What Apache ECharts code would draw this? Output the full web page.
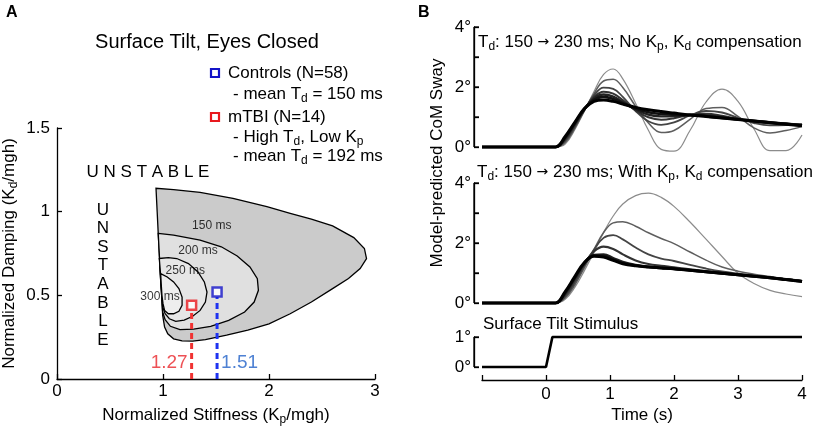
<!DOCTYPE html>
<html><head><meta charset="utf-8">
<script src="https://cdn.jsdelivr.net/npm/echarts@6/dist/echarts.min.js"></script>
<style>html,body{margin:0;padding:0;background:#fff}#c{width:829px;height:429px}</style>
</head><body><div id="c"></div>
<script>
// ---------------- Panel A data ----------------
const stiffnessRange = [0, 3];
const dampingRange = [0, 1.5];
const contourLabels = ['150 ms', '200 ms', '250 ms', '300 ms'];
const contourLabelPos = [[1.46, 0.915], [1.33, 0.765], [1.21, 0.645], [0.972, 0.492]];
const contour150 = [[0.934,1.14],[0.945,1.0],[0.955,0.87],[0.965,0.75],[0.975,0.62],[0.988,0.49],[0.997,0.38],[1.015,0.31],[1.045,0.27],[1.1,0.24],[1.18,0.228],[1.28,0.226],[1.4,0.235],[1.6,0.262],[1.8,0.292],[2.0,0.33],[2.2,0.39],[2.4,0.46],[2.6,0.54],[2.75,0.6],[2.86,0.66],[2.92,0.72],[2.9,0.78],[2.8,0.845],[2.6,0.915],[2.4,0.955],[2.2,0.99],[1.98,1.03],[1.66,1.08],[1.35,1.115],[1.1,1.132],[0.934,1.14]];
const contour200 = [[0.955,0.87],[1.1,0.86],[1.35,0.83],[1.55,0.79],[1.7,0.735],[1.82,0.67],[1.89,0.6],[1.9,0.53],[1.86,0.46],[1.77,0.4],[1.62,0.35],[1.45,0.315],[1.29,0.298],[1.16,0.295],[1.07,0.315],[1.02,0.355],[0.997,0.4],[0.988,0.49],[0.975,0.62],[0.965,0.75],[0.955,0.87]];
const contour250 = [[0.965,0.72],[1.05,0.725],[1.13,0.72],[1.24,0.69],[1.33,0.64],[1.39,0.58],[1.415,0.52],[1.4,0.46],[1.35,0.41],[1.28,0.375],[1.2,0.352],[1.12,0.345],[1.06,0.36],[1.02,0.39],[0.997,0.43],[0.99,0.5],[0.978,0.62],[0.965,0.72]];
const contour300 = [[0.978,0.63],[1.04,0.61],[1.1,0.58],[1.15,0.54],[1.18,0.49],[1.18,0.44],[1.15,0.405],[1.1,0.39],[1.05,0.39],[1.015,0.41],[1.0,0.45],[0.99,0.5],[0.983,0.57],[0.978,0.63]];
const controlsPoint = [1.51, 0.52];
const mtbiPoint = [1.27, 0.44];
const controlsKpLabel = '1.51';
const mtbiKpLabel = '1.27';

// ---------------- Panel B data ----------------
const timeS = [-1, 0, 0.15, 0.3, 0.45, 0.6, 0.75, 0.9, 1.05, 1.2, 1.4, 1.6, 1.8, 2.0, 2.25, 2.5, 2.75, 3.0, 3.25, 3.5, 3.75, 4.0];
const swayNoComp1 = [0,0,0,0.35,0.82,1.28,1.52,1.57,1.52,1.43,1.32,1.24,1.18,1.13,1.07,1.02,0.97,0.92,0.87,0.81,0.76,0.71];
const swayNoComp2 = [0,0,0,0.32,0.8,1.27,1.57,1.67,1.6,1.46,1.28,1.16,1.1,1.08,1.06,1.02,0.97,0.92,0.87,0.82,0.77,0.72];
const swayNoComp3 = [0,0,0,0.29,0.77,1.26,1.62,1.75,1.68,1.5,1.25,1.08,1.02,1.03,1.07,1.06,1.0,0.92,0.86,0.82,0.78,0.73];
const swayNoComp4 = [0,0,0,0.25,0.73,1.25,1.66,1.84,1.78,1.56,1.22,0.99,0.91,0.96,1.08,1.11,1.04,0.93,0.84,0.79,0.78,0.74];
const swayNoComp5 = [0,0,0,0.2,0.68,1.23,1.72,1.98,1.94,1.67,1.2,0.86,0.74,0.82,1.05,1.2,1.15,0.97,0.8,0.72,0.73,0.76];
const swayNoComp6 = [0,0,0,0.15,0.63,1.21,1.78,2.2,2.26,1.98,1.36,0.8,0.48,0.55,0.92,1.28,1.32,1.02,0.64,0.47,0.55,0.68];
const swayNoComp7 = [0,0,0,0.1,0.58,1.2,1.85,2.42,2.6,2.27,1.46,0.56,-0.08,-0.14,0.55,1.5,1.93,1.52,0.6,-0.12,-0.12,0.4];
const swayComp1 = [0,0,0,0.38,0.88,1.35,1.56,1.53,1.42,1.31,1.24,1.2,1.17,1.14,1.09,1.04,0.99,0.94,0.89,0.84,0.78,0.72];
const swayComp2 = [0,0,0,0.35,0.85,1.34,1.58,1.57,1.45,1.33,1.25,1.2,1.17,1.14,1.09,1.04,0.99,0.94,0.89,0.84,0.78,0.72];
const swayComp3 = [0,0,0,0.32,0.82,1.32,1.6,1.62,1.5,1.37,1.27,1.21,1.17,1.14,1.09,1.04,0.99,0.94,0.89,0.84,0.79,0.73];
const swayComp4 = [0,0,0,0.28,0.76,1.3,1.72,1.88,1.8,1.62,1.42,1.3,1.24,1.19,1.12,1.06,1.0,0.95,0.9,0.85,0.79,0.73];
const swayComp5 = [0,0,0,0.22,0.68,1.25,1.78,2.17,2.26,2.12,1.85,1.62,1.48,1.4,1.27,1.15,1.05,0.98,0.92,0.86,0.8,0.74];
const swayComp6 = [0,0,0,0.17,0.6,1.18,1.78,2.35,2.67,2.71,2.56,2.34,2.15,1.98,1.7,1.43,1.2,1.06,0.96,0.88,0.8,0.73];
const swayComp7 = [0,0,0,0.12,0.52,1.08,1.7,2.35,2.9,3.3,3.58,3.66,3.52,3.22,2.7,2.13,1.55,0.99,0.65,0.42,0.3,0.21];
const stimTime = [-1, 0, 0.1, 4];
const stimTilt = [0, 0, 1, 1];

// ---------------- Styling ----------------
const FONT = '"Liberation Sans", Arial, Helvetica, sans-serif';
const lineColors = ['#000000','#111111','#222222','#333333','#444444','#5e5e5e','#8c8c8c'];
const lineWidths = [3, 2.7, 2.4, 2.1, 1.8, 1.5, 1.2];
const contourFills = ['#cbcbcb', '#e0e0e0', '#e6e6e6', '#eeeeee'];
const RICH = {
  n: {fontSize: 17, fontFamily: FONT, lineHeight: 21, color: '#000'},
  s: {fontSize: 12, fontFamily: FONT, lineHeight: 12, padding: [9, 0, 0, 0], color: '#000'},
  a: {fontSize: 14, fontFamily: '"DejaVu Sans", sans-serif', lineHeight: 21, color: '#000'}
};
function axisLineStyle() { return {color: '#000', width: 1.3}; }

function txt(x, y, text, size, extra) {
  extra = extra || {};
  return {
    type: 'text', x: x, y: y, rotation: extra.rotation || 0, silent: true, z: 100,
    style: {
      text: text, fill: '#000', fontSize: size, fontFamily: FONT,
      fontWeight: extra.bold ? 'bold' : 'normal',
      align: extra.align || 'left', textAlign: extra.align || 'left',
      verticalAlign: 'middle', textVerticalAlign: 'middle',
      lineHeight: extra.lineHeight, rich: extra.rich
    }
  };
}
function legendBox(cx, cy, color) {
  return {type: 'rect', silent: true, z: 100, shape: {x: cx - 4, y: cy - 4, width: 8, height: 8},
    style: {fill: '#fff', stroke: color, lineWidth: 2.2}};
}

const contours = [contour150, contour200, contour250, contour300];
const noComp = [swayNoComp1, swayNoComp2, swayNoComp3, swayNoComp4, swayNoComp5, swayNoComp6, swayNoComp7];
const withComp = [swayComp1, swayComp2, swayComp3, swayComp4, swayComp5, swayComp6, swayComp7];

const series = [];
series.push({
  type: 'custom', xAxisIndex: 0, yAxisIndex: 0, clip: false, silent: true, z: 1,
  data: contours.map(c => c[0]),
  renderItem: function (params, api) {
    const pts = contours[params.dataIndex].map(p => api.coord(p));
    return {type: 'polygon', shape: {points: pts},
      style: {fill: contourFills[params.dataIndex], stroke: '#000', lineWidth: 1.3}};
  }
});
series.push({
  type: 'scatter', xAxisIndex: 0, yAxisIndex: 0, symbolSize: 0, silent: true, z: 4,
  itemStyle: {color: 'transparent'},
  data: contourLabelPos.map((p, i) => ({value: p, name: contourLabels[i]})),
  label: {show: true, position: 'inside', formatter: '{b}', fontSize: 12, fontFamily: FONT, color: '#000'}
});
series.push({type: 'line', xAxisIndex: 0, yAxisIndex: 0, symbol: 'none', silent: true, z: 3,
  data: [[mtbiPoint[0], 0], [mtbiPoint[0], mtbiPoint[1] - 0.03]],
  lineStyle: {color: '#f03232', width: 3, type: [6, 4]}});
series.push({type: 'line', xAxisIndex: 0, yAxisIndex: 0, symbol: 'none', silent: true, z: 3,
  data: [[controlsPoint[0], 0], [controlsPoint[0], controlsPoint[1] - 0.03]],
  lineStyle: {color: '#1e32f0', width: 3, type: [6, 4]}});
series.push({type: 'scatter', name: 'Controls', xAxisIndex: 0, yAxisIndex: 0, symbol: 'rect', symbolSize: 9, z: 5,
  data: [controlsPoint], itemStyle: {color: '#fff', borderColor: '#1414c8', borderWidth: 2.5}});
series.push({type: 'scatter', name: 'mTBI', xAxisIndex: 0, yAxisIndex: 0, symbol: 'rect', symbolSize: 9, z: 5,
  data: [mtbiPoint], itemStyle: {color: '#fff', borderColor: '#e8191e', borderWidth: 2.5}});
series.push({type: 'scatter', xAxisIndex: 0, yAxisIndex: 0, symbolSize: 0, silent: true, z: 6,
  itemStyle: {color: 'transparent'},
  data: [{value: [mtbiPoint[0], 0.1], name: mtbiKpLabel}],
  label: {show: true, position: 'left', distance: 4, formatter: '{b}', fontSize: 19, fontFamily: FONT, color: '#e8262b'}});
series.push({type: 'scatter', xAxisIndex: 0, yAxisIndex: 0, symbolSize: 0, silent: true, z: 6,
  itemStyle: {color: 'transparent'},
  data: [{value: [controlsPoint[0], 0.1], name: controlsKpLabel}],
  label: {show: true, position: 'right', distance: 4, formatter: '{b}', fontSize: 19, fontFamily: FONT, color: '#2262c8'}});

function addSway(arr, axisIdx) {
  arr.forEach((vals, i) => {
    series.push({type: 'line', xAxisIndex: axisIdx, yAxisIndex: axisIdx, symbol: 'none', smooth: 0.4,
      clip: false, silent: true, z: 2 + (arr.length - i),
      data: timeS.map((t, k) => [t, vals[k]]),
      lineStyle: {color: lineColors[i], width: lineWidths[i]}});
  });
}
addSway(noComp, 1);
addSway(withComp, 2);
series.push({type: 'line', xAxisIndex: 3, yAxisIndex: 3, symbol: 'none', silent: true, clip: false,
  data: stimTime.map((t, k) => [t, stimTilt[k]]), lineStyle: {color: '#000', width: 2.6}});

const baseLabel = {color: '#000', fontSize: 17, fontFamily: FONT};
function timeAxis(gi, show) {
  return {type: 'value', gridIndex: gi, min: -1, max: 4, interval: 1, show: show,
    offset: show ? 13 : 0,
    axisLine: {show: true, onZero: false, lineStyle: axisLineStyle()},
    axisTick: {show: true, inside: true, length: 5, lineStyle: axisLineStyle()},
    axisLabel: Object.assign({margin: 6, formatter: v => (v < 0 ? '' : String(v))}, baseLabel),
    splitLine: {show: false},
    name: show ? 'Time (s)' : '', nameLocation: 'middle', nameGap: 27,
    nameTextStyle: {color: '#000', fontSize: 17, fontFamily: FONT}};
}
function hiddenSwayAxis(gi, max) {
  return {type: 'value', gridIndex: gi, min: 0, max: max, interval: 1, show: false,
    axisLine: {onZero: false}, splitLine: {show: false}};
}
// degree axes on axis-only grids, 8 px left of the data area
function swayAxis(gi, max, labelEvery) {
  return {type: 'value', gridIndex: gi, min: 0, max: max, interval: 1, position: 'left',
    axisLine: {show: true, onZero: true, lineStyle: axisLineStyle()},
    axisTick: {show: true, inside: true, length: 5, lineStyle: axisLineStyle()},
    axisLabel: Object.assign({margin: 3, formatter: v => (v % labelEvery === 0 ? v + '°' : '')}, baseLabel),
    splitLine: {show: false}};
}
function blankX(gi) {
  return {type: 'value', gridIndex: gi, min: 0, max: 1, interval: 1,
    axisLine: {show: false, onZero: false}, axisTick: {show: false}, axisLabel: {show: false},
    splitLine: {show: false}};
}
function g(left, top, width, height) {
  return {left: left, top: top, width: width, height: height, outerBoundsMode: 'none', containLabel: false};
}

const baseGraphic = [
  txt(6, 13, 'A', 16, {bold: true}),
  txt(418, 13, 'B', 16, {bold: true}),
  txt(207, 42, 'Surface Tilt, Eyes Closed', 20, {align: 'center'}),
  legendBox(215, 73, '#1414c8'),
  txt(228, 73, 'Controls (N=58)', 17),
  txt(233, 94, '{n|- mean T}{s|d}{n| = 150 ms}', 17, {rich: RICH}),
  legendBox(215, 117, '#e8191e'),
  txt(228, 117, 'mTBI (N=14)', 17),
  txt(233, 137, '{n|- High T}{s|d}{n|, Low K}{s|p}', 17, {rich: RICH}),
  txt(233, 156, '{n|- mean T}{s|d}{n| = 192 ms}', 17, {rich: RICH}),
  txt(148, 172, 'U N S T A B L E', 17, {align: 'center'}),
  txt(103, 275, 'U\nN\nS\nT\nA\nB\nL\nE', 17, {align: 'center', lineHeight: 18.6}),
  txt(478, 42, '{n|T}{s|d}{n|: 150 }{a|→}{n| 230 ms; No K}{s|p}{n|, K}{s|d}{n| compensation}', 17, {rich: RICH}),
  txt(477, 172, '{n|T}{s|d}{n|: 150 }{a|→}{n| 230 ms; With K}{s|p}{n|, K}{s|d}{n| compensation}', 17, {rich: RICH}),
  txt(483, 324, 'Surface Tilt Stimulus', 17),
  txt(437, 163, 'Model-predicted CoM Sway', 17, {align: 'center', rotation: Math.PI / 2})
];

const option = {
  animation: false,
  backgroundColor: '#fff',
  textStyle: {fontFamily: FONT},
  grid: [
    g(57, 128, 318, 251),
    g(482, 27, 320, 120),
    g(482, 183, 320, 120),
    g(482, 337, 320, 30),
    g(474, 27, 328, 120),
    g(474, 183, 328, 120),
    g(474, 337, 328, 30)
  ],
  xAxis: [
    {type: 'value', gridIndex: 0, min: stiffnessRange[0], max: stiffnessRange[1], interval: 1,
      axisLine: {show: true, onZero: false, lineStyle: axisLineStyle()},
      axisTick: {show: true, inside: true, length: 5, lineStyle: axisLineStyle()},
      axisLabel: Object.assign({margin: 4}, baseLabel), splitLine: {show: false},
      name: '{n|Normalized Stiffness (K}{s|p}{n|/mgh)}', nameLocation: 'middle', nameGap: 22,
      nameTextStyle: {rich: RICH}},
    timeAxis(1, false), timeAxis(2, false), timeAxis(3, true),
    blankX(4), blankX(5), blankX(6)
  ],
  yAxis: [
    {type: 'value', gridIndex: 0, min: dampingRange[0], max: dampingRange[1], interval: 0.5,
      axisLine: {show: true, onZero: false, lineStyle: axisLineStyle()},
      axisTick: {show: true, inside: true, length: 5, lineStyle: axisLineStyle()},
      axisLabel: Object.assign({margin: 7}, baseLabel), splitLine: {show: false},
      name: '{n|Normalized Damping (K}{s|d}{n|/mgh)}', nameLocation: 'middle', nameGap: 37,
      nameTextStyle: {rich: RICH}},
    hiddenSwayAxis(1, 4), hiddenSwayAxis(2, 4), hiddenSwayAxis(3, 1),
    swayAxis(4, 4, 2), swayAxis(5, 4, 2), swayAxis(6, 1, 1)
  ],
  series: series,
  graphic: baseGraphic
};
const chart = echarts.init(document.getElementById('c'), null, {renderer: 'canvas'});
chart.setOption(option);

// axis lines and inward ticks of the degree axes, placed through the axes' own scales
const axisMarks = [];
[[4, 4], [5, 4], [6, 1]].forEach(function (d) {
  const yi = d[0], maxV = d[1];
  const x = chart.convertToPixel({gridIndex: yi}, [0, 0])[0];
  const yTop = chart.convertToPixel({yAxisIndex: yi}, maxV);
  const yBot = chart.convertToPixel({yAxisIndex: yi}, 0);
  axisMarks.push({type: 'line', silent: true, z: 50, shape: {x1: x, y1: yTop, x2: x, y2: yBot},
    style: {stroke: '#000', lineWidth: 1.3}});
  for (let v = 0; v <= maxV; v++) {
    const y = chart.convertToPixel({yAxisIndex: yi}, v);
    axisMarks.push({type: 'line', silent: true, z: 50, shape: {x1: x, y1: y, x2: x + 5, y2: y},
      style: {stroke: '#000', lineWidth: 1.3}});
  }
});
chart.setOption({graphic: baseGraphic.concat(axisMarks)});
</script></body></html>
